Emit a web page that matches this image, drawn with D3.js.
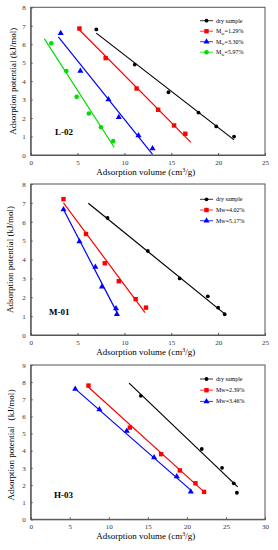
<!DOCTYPE html>
<html>
<head>
<meta charset="utf-8">
<script src="https://cdn.jsdelivr.net/npm/d3@7"></script>
<style>
body { margin:0; background:#fff; }
svg text { font-family: "Liberation Serif", "Times New Roman", serif; }
</style>
</head>
<body>
<div id="chart"></div>
<script>
var width = 278;
var height = 550;

// L-02
var l02Dry = {x:[7.0,11.1,14.7,17.9,19.8,21.7], y:[6.8,4.9,3.4,2.3,1.55,1.0], fit:[[7.0,6.6],[21.7,0.82]]};
var l02M1 = {x:[5.2,8.0,11.3,13.6,15.3,16.5], y:[6.85,5.25,3.6,2.45,1.6,1.15], fit:[[5.0,6.88],[17.1,0.68]]};
var l02M2 = {x:[3.2,5.3,8.3,9.4,11.5,13.0], y:[6.6,4.55,3.0,2.05,1.05,0.35], fit:[[2.95,6.4],[13.0,0.03]]};
var l02M3 = {x:[2.2,3.8,4.9,6.2,7.5,8.8], y:[6.05,4.55,3.15,2.25,1.5,0.75], fit:[[1.45,6.3],[8.9,0.42]]};
// M-01
var m01Dry = {x:[8.2,12.5,15.9,18.9,20.0,20.7], y:[6.2,4.45,3.0,2.05,1.45,1.1], fit:[[6.15,6.98],[20.8,1.08]]};
var m01M1 = {x:[3.5,5.9,7.9,9.4,11.2,12.3], y:[7.2,5.35,3.8,2.85,1.9,1.45], fit:[[3.5,7.0],[12.2,1.18]]};
var m01M2 = {x:[3.5,5.2,6.9,7.6,9.1,9.2], y:[6.65,4.95,3.6,2.55,1.4,1.1], fit:[[3.5,6.65],[9.2,1.2]]};
// H-03
var h03Dry = {x:[14.1,21.9,24.5,26.0,26.4], y:[7.2,4.1,3.0,2.1,1.55], fit:[[12.6,7.94],[26.5,1.89]]};
var h03M1 = {x:[7.4,12.7,16.7,19.1,21.1,22.2], y:[7.8,5.35,3.8,2.85,2.1,1.6], fit:[[7.3,7.75],[22.2,1.6]]};
var h03M2 = {x:[5.7,8.8,12.3,15.8,18.7,20.5], y:[7.6,6.4,5.15,3.6,2.5,1.6], fit:[[5.6,7.65],[20.5,1.7]]};

var xTicks25 = [0,5,10,15,20,25];
var xTicks30 = [0,5,10,15,20,25,30];
var yTicks8 = [0,1,2,3,4,5,6,7,8];
var yTicks9 = [0,1,2,3,4,5,6,7,8,9];

var panels = [
  {name:'L-02', top:7.3, bottom:155, xMax:25, yMax:8, xTicks:xTicks25, yTicks:yTicks8,
   label:[55,135], legendY:20.7, legendStep:10.5, ylab:13, yTitle:'Adsorption potential (kJ/mol)',
   series:[
     {d:l02Dry, color:'#000', shape:'dot', name:'dry sample'},
     {d:l02M1, color:'#ff0000', shape:'square', name:'M', sub:'w', rest:'=1.29%'},
     {d:l02M2, color:'#0000ff', shape:'tri', name:'M', sub:'w', rest:'=3.30%'},
     {d:l02M3, color:'#00dd00', shape:'circle', name:'M', sub:'w', rest:'=5.97%'}
   ]},
  {name:'M-01', top:184, bottom:335, xMax:25, yMax:8, xTicks:xTicks25, yTicks:yTicks8,
   label:[49,315], legendY:199.3, legendStep:10.7, ylab:10, yTitle:'Adsorption potential (kJ/mol)',
   series:[
     {d:m01Dry, color:'#000', shape:'dot', name:'dry sample'},
     {d:m01M1, color:'#ff0000', shape:'square', name:'Mw=4.02%'},
     {d:m01M2, color:'#0000ff', shape:'tri', name:'Mw=5.17%'}
   ]},
  {name:'H-03', top:365, bottom:519.3, xMax:30, yMax:9, xTicks:xTicks30, yTicks:yTicks9,
   label:[54,498], legendY:379, legendStep:11.2, ylab:11, yTitle:'Adsorption potential\uFF08kJ/mol\uFF09',
   series:[
     {d:h03Dry, color:'#000', shape:'dot', name:'dry sample'},
     {d:h03M1, color:'#ff0000', shape:'square', name:'Mw=2.39%'},
     {d:h03M2, color:'#0000ff', shape:'tri', name:'Mw=3.46%'}
   ]}
];

var left = 30.7, right = 265;

var canvas = d3.select('#chart')
  .append('svg')
  .attr('width', width)
  .attr('height', height);

function drawMarker(g, shape, color, cx, cy) {
  if (shape == 'square') {
    g.append('rect').attr('x', cx-2.2).attr('y', cy-2.2).attr('width', 4.4).attr('height', 4.4).attr('fill', color);
  } else if (shape == 'tri') {
    g.append('path').attr('d', d3.symbol().type(d3.symbolTriangle).size(16)()).attr('transform', 'translate('+cx+','+cy+')').attr('fill', color);
  } else if (shape == 'circle') {
    g.append('circle').attr('cx', cx).attr('cy', cy).attr('r', 2.3).attr('fill', color);
  } else {
    g.append('circle').attr('cx', cx).attr('cy', cy).attr('r', 1.9).attr('fill', color);
  }
}

panels.forEach(function(p){
  var xScale = d3.scaleLinear().domain([0, p.xMax]).range([left, right]);
  var yScale = d3.scaleLinear().domain([0, p.yMax]).range([p.bottom, p.top]);
  var g = canvas.append('g');

  // frame
  g.append('rect')
    .attr('x', left).attr('y', p.top)
    .attr('width', right-left).attr('height', p.bottom-p.top)
    .attr('fill', 'none').attr('stroke', '#555').attr('stroke-width', 1);

  // axes with inward ticks
  var xAxis = d3.axisBottom(xScale).tickValues(p.xTicks).tickSize(-2).tickPadding(5);
  var yAxis = d3.axisLeft(yScale).tickValues(p.yTicks).tickSize(-2).tickPadding(5);
  var gx = g.append('g').attr('transform', 'translate(0,'+p.bottom+')').call(xAxis);
  var gy = g.append('g').attr('transform', 'translate('+left+',0)').call(yAxis);
  [gx, gy].forEach(function(a){
    a.select('.domain').attr('stroke', '#555');
    a.selectAll('.tick line').attr('stroke', '#555');
    a.selectAll('.tick text').style('font-size', '7px').attr('fill', '#333')
      .style('font-family', '"Liberation Serif", serif');
  });

  // axis titles
  var xt = g.append('text')
    .attr('x', (left+right)/2 - 2)
    .attr('y', p.bottom + 20)
    .attr('text-anchor', 'middle')
    .style('font-size', '9px');
  xt.append('tspan').text('Adsorption volume (cm');
  xt.append('tspan').text('3').attr('dy', -3).style('font-size', '6px');
  xt.append('tspan').text('/g)').attr('dy', 3);

  g.append('text')
    .text(p.yTitle)
    .attr('text-anchor', 'middle')
    .attr('transform', 'translate('+(p.ylab+3)+','+((p.top+p.bottom)/2)+')rotate(-90)')
    .style('font-size', '9px');

  // sample label
  g.append('text')
    .text(p.name)
    .attr('x', p.label[0]).attr('y', p.label[1])
    .style('font-size', '9px')
    .style('font-weight', 'bold');

  // series
  p.series.forEach(function(s, i){
    g.append('line')
      .attr('x1', xScale(s.d.fit[0][0])).attr('y1', yScale(s.d.fit[0][1]))
      .attr('x2', xScale(s.d.fit[1][0])).attr('y2', yScale(s.d.fit[1][1]))
      .attr('stroke', s.color).attr('stroke-width', 1.2);
    s.d.x.forEach(function(xv, j){
      drawMarker(g, s.shape, s.color, xScale(xv), yScale(s.d.y[j]));
    });

    // legend
    var ly = p.legendY + i*p.legendStep;
    g.append('line')
      .attr('x1', 200).attr('x2', 213).attr('y1', ly).attr('y2', ly)
      .attr('stroke', s.color).attr('stroke-width', 0.8);
    drawMarker(g, s.shape, s.color, 206.5, ly);
    var lt = g.append('text')
      .attr('x', 216).attr('y', ly + 2)
      .style('font-size', '6px');
    lt.append('tspan').text(s.name);
    if (s.sub) {
      lt.append('tspan').text(s.sub).attr('dy', 1.5).style('font-size', '4.5px');
      lt.append('tspan').text(s.rest).attr('dy', -1.5);
    }
  });
});
</script>
</body>
</html>
